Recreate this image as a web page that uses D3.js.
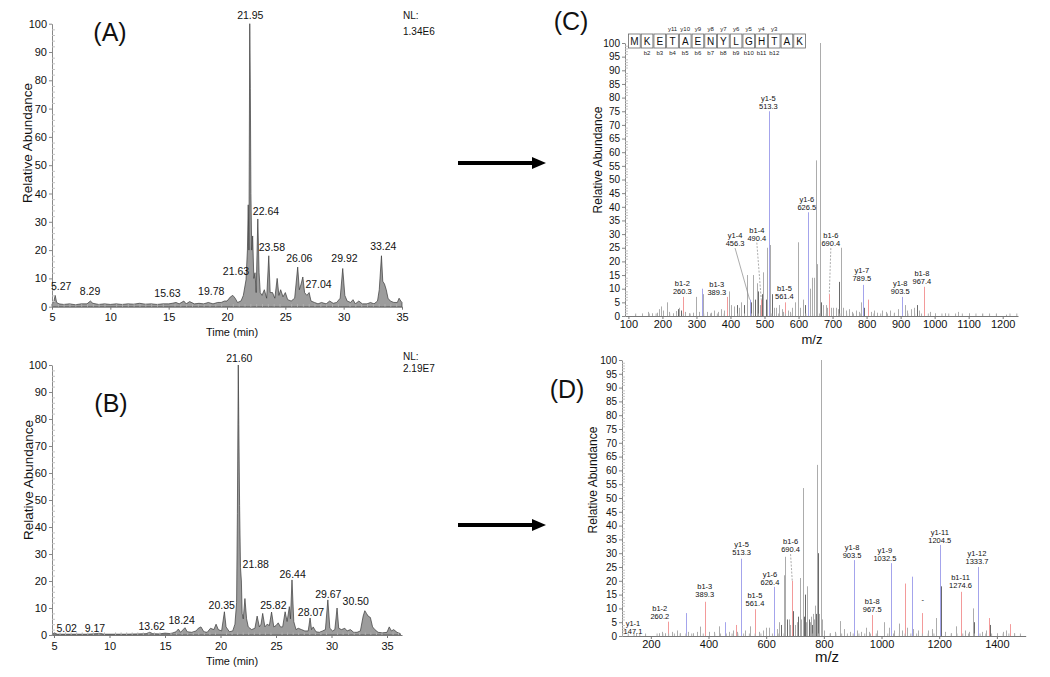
<!DOCTYPE html>
<html><head><meta charset="utf-8">
<script src="https://cdn.jsdelivr.net/npm/d3@7"></script>
<style>body{margin:0;background:#fff}</style>
</head><body>
<svg id="c" width="1050" height="677"></svg>
<script>
// ---------- DATA ----------
const chromA = [[5.0,1],[5.15,1.5],[5.27,4],[5.4,1.5],[5.6,1],[6.0,0.8],[6.5,1],[7.0,0.7],[7.5,1],[8.0,1],[8.29,2],[8.5,1.2],[9.0,0.8],[9.5,1],[10,0.8],[10.5,1],[11,0.8],[11.5,1],[12,0.9],[12.5,1.2],[13,0.9],[13.5,1],[14,0.8],[14.5,1],[15,1],[15.3,1.2],[15.63,1.5],[15.9,1],[16.3,2],[16.5,1],[16.8,1.8],[17.2,1],[17.6,1.2],[18,1],[18.4,1.5],[18.8,1],[19.2,1.5],[19.5,1.5],[19.78,2],[20.0,2],[20.3,3.5],[20.5,4],[20.7,3],[20.9,1.5],[21.2,2],[21.4,4],[21.63,9.5],[21.75,20],[21.82,36],[21.88,20],[21.95,100],[22.0,77],[22.05,40],[22.12,20],[22.2,25],[22.3,10],[22.4,12],[22.5,5],[22.64,31],[22.75,12],[22.85,5],[23.0,4],[23.2,6],[23.4,3],[23.58,18],[23.7,5],[23.9,5],[24.1,3],[24.3,10],[24.45,4],[24.6,6],[24.8,3.5],[25.0,5],[25.2,2.5],[25.5,2],[25.8,3],[26.06,14],[26.2,6],[26.35,8],[26.5,10.5],[26.65,5],[26.85,4],[27.04,5],[27.2,2],[27.5,1.5],[27.8,1],[28.1,1.5],[28.5,1],[28.8,2],[29.1,1.2],[29.4,1.5],[29.7,3],[29.92,13.5],[30.1,4],[30.3,2],[30.6,1.5],[30.8,2.5],[31.0,1],[31.3,2],[31.6,1],[32,1],[32.3,1.5],[32.6,1],[32.9,2],[33.05,6],[33.24,18],[33.35,9],[33.5,8],[33.65,6],[33.8,3],[34.0,2],[34.3,1.5],[34.6,1.5],[34.75,3],[34.9,2],[35.0,1.5]];
const chromB = [[4.85,0.3],[5.02,0.8],[5.3,0.3],[6,0.3],[7,0.3],[8,0.3],[9.17,0.6],[9.5,0.3],[10.5,0.3],[11.5,0.3],[12.5,0.4],[13.3,0.5],[13.62,1],[13.9,0.5],[14.5,0.4],[15,0.7],[15.5,0.5],[16.0,1.2],[16.2,2.2],[16.4,1],[16.8,2.7],[17.0,1.2],[17.4,1],[17.8,1.5],[18.0,2.5],[18.24,3],[18.5,1.2],[18.8,1],[19.1,2.5],[19.4,2],[19.6,4],[19.8,2],[20.1,1.5],[20.35,8.6],[20.5,3],[20.8,1.2],[21.1,1.5],[21.3,4],[21.45,12],[21.52,45],[21.6,100],[21.65,78],[21.72,48],[21.8,25],[21.88,20],[21.95,8],[22.05,6],[22.2,13.5],[22.35,6],[22.5,3],[22.8,2],[23.1,2.5],[23.3,7],[23.5,3],[23.65,4],[23.8,8],[24.0,3],[24.2,4],[24.4,3.5],[24.6,8.5],[24.8,3],[25.0,3.5],[25.2,4.5],[25.4,3],[25.6,3],[25.82,8.6],[26.0,5],[26.2,10.5],[26.3,6],[26.44,20.4],[26.6,5],[26.8,2],[27.0,2.5],[27.3,2],[27.6,1.5],[27.9,1.5],[28.07,6.3],[28.2,2],[28.35,3],[28.6,1.2],[28.9,1],[29.2,1.5],[29.45,2],[29.67,13],[29.85,2.5],[30.1,1.5],[30.3,2],[30.5,10],[30.65,2.5],[30.9,2],[31.2,2.5],[31.4,1.5],[31.7,2],[32.0,1],[32.3,1],[32.6,1.5],[32.85,7],[33.0,9],[33.15,8],[33.3,7],[33.5,6.5],[33.7,3],[33.9,2],[34.2,1],[34.6,0.8],[35.0,1],[35.2,3],[35.4,1.5],[35.6,2],[35.9,1],[36.2,0.5]];
// peak labels: text, time of label centre, abundance at label baseline
const labelsA = [["21.95",22.0,101.6],["5.27",5.78,5.9],["8.29",8.26,4.1],["15.63",14.9,3.5],["19.78",18.65,4.1],["21.63",20.77,11.2],["22.64",23.34,32.4],["23.58",23.85,19.8],["26.06",26.2,15.9],["27.04",27.85,6.6],["29.92",30.07,15.9],["33.24",33.4,20]];
const labelsB = [["21.60",21.69,101],["5.02",6.14,1.2],["9.17",8.69,1.2],["13.62",13.8,1.9],["18.24",16.5,4.1],["20.35",20.11,9.6],["21.88",23.17,24.7],["25.82",24.76,9.6],["26.44",26.5,21],["28.07",28.15,7],["29.67",29.71,13.6],["30.50",32.18,11.1]];
const nlA = ["NL:","1.34E6"];
const nlB = ["NL:","2.19E7"];
// spectra: m/z, relative abundance, ion type (g grey, d dark, b y-ion blue, r b-ion red)
const specC = [[120,0.5,'g'],[140,0.8,'g'],[158,1.5,'g'],[170,1,'g'],[183,1.2,'g'],[190,2.5,'g'],[196,3.5,'g'],[203,2,'g'],[212,5,'g'],[220,1.5,'g'],[232,1,'g'],[240,1.8,'g'],[245,2.5,'d'],[250,3,'g'],[255,2,'d'],[260.3,7,'r'],[266,1.5,'g'],[278,1,'g'],[290,1.2,'g'],[300,7,'g'],[308,1.5,'g'],[315,10,'b'],[320,8,'g'],[330,1.5,'g'],[342,1.2,'g'],[352,2,'g'],[362,1.5,'g'],[371,2.5,'g'],[380,2,'g'],[389.3,7,'r'],[395,9,'g'],[402,4,'g'],[410,3.5,'g'],[418,4,'d'],[425,3,'g'],[432,5,'g'],[440,4,'d'],[449,15,'g'],[456.3,6,'b'],[461,5,'d'],[466,15,'g'],[471,6,'d'],[477,12,'g'],[482,9,'d'],[486,4,'g'],[490.4,6,'r'],[494,8,'d'],[497,16,'g'],[503,6,'d'],[507,25,'g'],[513.3,75,'b'],[517,26,'g'],[522,8,'d'],[527,3,'g'],[535,3,'g'],[542,4,'g'],[550,2.5,'g'],[555,1.5,'g'],[561.4,5,'r'],[568,2,'g'],[575,1.5,'g'],[582,3,'g'],[590,5,'g'],[597,27,'g'],[604,3,'g'],[612,6,'g'],[619,4,'d'],[626.5,38,'b'],[628,9,'d'],[634,10,'g'],[639,14,'g'],[645,14,'g'],[652,57,'g'],[655,19,'g'],[662,100,'g'],[667,5,'d'],[672,4,'g'],[680,4,'g'],[685,3,'g'],[690.4,8,'r'],[695,3,'g'],[702,3,'g'],[710,3,'g'],[715,2.5,'g'],[720,12.5,'d'],[725,25,'g'],[732,3,'g'],[740,2,'g'],[748,2.5,'g'],[758,1.5,'g'],[768,2,'g'],[777,1.5,'g'],[784,5,'g'],[789.5,11.4,'b'],[793,3,'d'],[804,6,'r'],[812,1.5,'g'],[822,2,'g'],[832,1.2,'g'],[845,2,'g'],[856,1.5,'g'],[868,2,'g'],[880,1.2,'g'],[893,2.5,'g'],[903.5,7,'b'],[912,4,'g'],[920,2,'g'],[930,2.5,'g'],[940,3,'g'],[947,4,'d'],[955,2,'g'],[967.4,10.7,'r'],[970,3,'d'],[985,1.5,'g'],[1000,1,'g'],[1030,1,'g'],[1068,1.5,'g'],[1100,1,'g'],[1140,0.8,'g'],[1180,0.8,'g'],[1210,0.5,'g']];
const specD = [[147.1,1,'g'],[180,0.5,'g'],[230,1,'g'],[240,1.5,'g'],[250,1,'g'],[260.2,5.2,'r'],[275,1.5,'g'],[290,2,'g'],[300,1,'g'],[321,8.3,'b'],[330,1.5,'g'],[345,1,'g'],[360,1.5,'g'],[372,3.4,'g'],[389.3,12.4,'r'],[400,1.5,'g'],[420,1.5,'g'],[438,3.5,'g'],[456,5,'b'],[470,1.5,'g'],[485,2,'g'],[494,4,'r'],[500,1.5,'g'],[513.3,28,'b'],[528,2,'g'],[545,3.5,'g'],[561.4,9.7,'r'],[575,1.5,'g'],[590,2,'g'],[600,3,'g'],[610,3,'g'],[626.4,17.8,'b'],[636,2.5,'g'],[645,5,'g'],[653,4,'d'],[661,22,'g'],[667,28.7,'g'],[673,6,'d'],[679,6,'g'],[684,4,'g'],[690.4,20,'r'],[694,9,'d'],[700,4,'g'],[706,5,'g'],[711,7,'d'],[717,21,'g'],[721,6,'g'],[726,53.6,'g'],[730,7,'d'],[734,15,'d'],[738,5,'g'],[743,18,'g'],[747,6,'d'],[751,5,'g'],[756,7,'g'],[760,4,'d'],[763,8,'g'],[767,6,'g'],[770,11,'g'],[774,8,'d'],[777,62,'g'],[780,30,'d'],[784,8,'g'],[789,100,'g'],[792,6,'g'],[800,2,'g'],[820,1,'g'],[840,1.5,'g'],[856,5.4,'g'],[870,2.5,'g'],[890,1.5,'g'],[903.5,27.5,'b'],[915,2,'g'],[930,1.5,'g'],[945,3,'g'],[955,1.5,'g'],[967.5,7.6,'r'],[985,2,'g'],[1010,5,'g'],[1025,3,'g'],[1032.5,26.4,'b'],[1034,16,'d'],[1045,2,'g'],[1060,4.5,'g'],[1070,2,'g'],[1081,19,'r'],[1088,3,'g'],[1104,21.5,'b'],[1110,2.5,'g'],[1125,2,'g'],[1139,8.3,'r'],[1142,4,'d'],[1160,2,'g'],[1175,2.5,'g'],[1188,6.5,'g'],[1204.5,33,'b'],[1206,18,'d'],[1220,1.5,'g'],[1240,1,'g'],[1258,3.5,'g'],[1274.6,16,'r'],[1277,8,'d'],[1290,2,'g'],[1305,1.5,'g'],[1318,10,'g'],[1322,5,'d'],[1333.7,25,'b'],[1336,6,'d'],[1350,1.5,'g'],[1362,2,'g'],[1373,6.5,'r'],[1376,4,'d'],[1400,1,'g'],[1420,1.5,'g'],[1432,2,'g'],[1445,4.3,'r'],[1460,1,'g'],[1480,0.5,'g']];
// ion labels: line1, line2, m/z of label centre, abundance at 2nd baseline, leader target [m/z, abundance] or null, dashed
const ionLabelsC = [["y1-5","513.3",511.5,76,null,false],["b1-2","260.3",258.5,8.1,null,false],["b1-3","389.3",359.7,7.7,null,false],["y1-4","456.3",413.5,25.6,[456.3,6],false],["b1-4","490.4",477.4,27.6,[490.4,6],true],["b1-5","561.4",558.5,6.1,null,false],["y1-6","626.5",624.4,38.8,null,false],["b1-6","690.4",695,25.6,[690.4,8],true],["y1-7","789.5",786,12.8,null,false],["y1-8","903.5",898.8,7.9,null,false],["b1-8","967.4",962.6,11.6,null,false]];
const ionLabelsD = [["y1-1","147.1",138,0.7,null,false],["b1-2","260.2",231,6.2,null,false],["b1-3","389.3",387,14.1,null,false],["y1-5","513.3",514.6,29.3,null,false],["b1-5","561.4",561,10.9,null,false],["y1-6","626.4",613,18.5,null,false],["b1-6","690.4",684.6,30.4,[690.4,20],true],["y1-8","903.5",898,28.3,null,false],["b1-8","967.5",967.6,8.7,null,false],["y1-9","1032.5",1011.6,27.2,null,false],["","-",1143,12.3,null,false],["y1-11","1204.5",1202,33.7,null,false],["b1-11","1274.6",1274,17.4,null,false],["y1-12","1333.7",1331,26.1,null,false]];
const sequence = ["M","K","E","T","A","E","N","Y","L","G","H","T","A","K"];
const yIons = ["y11","y10","y9","y8","y7","y6","y5","y4","y3"];   // over residues 4..12
const bIons = ["b2","b3","b4","b5","b6","b7","b8","b9","b10","b11","b12"]; // under residues 2..12
const panelLetters = ["(A)","(B)","(C)","(D)"];
const ticksChrom = [5,10,15,20,25,30,35];
const ticksC = [100,200,300,400,500,600,700,800,900,1000,1100,1200];
const ticksD = [200,400,600,800,1000,1200,1400];

// ---------- DRAW ----------
const FONT = "'Liberation Sans', Arial, Helvetica, sans-serif";
const svg = d3.select('#c');
const colors = {g:'#acacac', d:'#6a6a6a', b:'#a4a4ec', r:'#f39a9a'};

function txt(x, y, s, size, anchor) {
  return svg.append('text').attr('x', x).attr('y', y).text(s)
    .attr('font-family', FONT).attr('font-size', size).attr('fill', '#111')
    .attr('text-anchor', anchor || 'middle');
}

function yAxis(y, x0, step, minor, fs) {
  const majors = d3.range(0, 100.001, step);
  const minors = d3.range(0, 100.001, minor).filter(v => Math.abs(v / step - Math.round(v / step)) > 1e-6);
  const g = svg.append('g').attr('transform', `translate(${x0},0)`)
    .call(d3.axisLeft(y).tickValues(majors).tickSize(3).tickSizeOuter(0).tickPadding(2).tickFormat(d3.format('d')));
  g.select('.domain').attr('stroke', '#888');
  g.selectAll('.tick line').attr('stroke', '#888');
  g.selectAll('text').attr('font-size', fs).attr('font-family', FONT).attr('fill', '#111');
  const m = svg.append('g').attr('transform', `translate(${x0},0)`)
    .call(d3.axisRight(y).tickValues(minors).tickSize(3).tickSizeOuter(0).tickFormat(''));
  m.select('.domain').remove();
  m.selectAll('line').attr('stroke', '#c4c4c4');
}

function xAxis(x, y0, majors, minorStep, fs, pad) {
  const [a, b] = x.domain();
  const g = svg.append('g').attr('transform', `translate(0,${y0})`)
    .call(d3.axisBottom(x).tickValues(majors).tickSize(3).tickSizeOuter(0).tickPadding(pad).tickFormat(d3.format('d')));
  g.select('.domain').attr('stroke', '#777');
  g.selectAll('.tick line').attr('stroke', '#777');
  g.selectAll('text').attr('font-size', fs).attr('font-family', FONT).attr('fill', '#111');
  const minors = d3.range(Math.ceil(a / minorStep) * minorStep, b, minorStep)
    .filter(v => !majors.some(mj => Math.abs(mj - v) < 1e-6));
  const m = svg.append('g').attr('transform', `translate(0,${y0})`)
    .call(d3.axisTop(x).tickValues(minors).tickSize(2.5).tickSizeOuter(0).tickFormat(''));
  m.select('.domain').remove();
  m.selectAll('line').attr('stroke', '#b0b0b0');
}

function chrom(data, labels, nl, xr, xd, yr, tlY, letter, letterPos, nlGap) {
  const x = d3.scaleLinear().domain(xd).range(xr);
  const y = d3.scaleLinear().domain([0, 100]).range(yr);
  const area = d3.area().x(d => x(d[0])).y0(y(0)).y1(d => y(d[1]));
  svg.append('path').datum(data).attr('d', area).attr('fill', '#9c9c9c').attr('stroke', '#3a3a3a').attr('stroke-width', 0.7);
  yAxis(y, xr[0], 10, 2, 11);
  xAxis(x, yr[0], ticksChrom, 0.5, 11, 4);
  labels.forEach(l => txt(x(l[1]), y(l[2]), l[0], 10.5));
  txt(xr[1] + 1, yr[1] - 5, nl[0], 10, 'start');
  txt(xr[1] + 1, yr[1] - 5 + nlGap, nl[1], 10, 'start');
  txt((xr[0] + xr[1]) / 2 + 5, tlY, 'Time (min)', 11);
  txt(letterPos[0], letterPos[1], letter, 25);
  return {x, y};
}

function spectrum(data, labels, xr, xd, yr, majors) {
  const x = d3.scaleLinear().domain(xd).range(xr);
  const y = d3.scaleLinear().domain([0, 100]).range(yr);
  const order = {g:0, d:1, r:2, b:2};
  const sorted = data.slice().sort((a, b) => order[a[2]] - order[b[2]]);
  svg.append('g').selectAll('line').data(sorted).join('line')
    .attr('x1', d => Math.round(x(d[0])) + 0.5).attr('x2', d => Math.round(x(d[0])) + 0.5)
    .attr('y1', y(0)).attr('y2', d => y(d[1]))
    .attr('stroke', d => colors[d[2]]).attr('stroke-width', 1);
  yAxis(y, xr[0], 5, 1, 10);
  xAxis(x, yr[0], majors, 20, 11, 1);
  labels.forEach(l => {
    const cx = x(l[2]), by = y(l[3]);
    if (l[0]) txt(cx, by - 8, l[0], 7.5);
    txt(cx, by, l[1], 7.5);
    if (l[4]) {
      svg.append('line').attr('x1', cx).attr('y1', by + 2).attr('x2', x(l[4][0])).attr('y2', y(l[4][1]))
        .attr('stroke', '#888').attr('stroke-width', 0.7).attr('stroke-dasharray', l[5] ? '2,1.5' : null);
    }
  });
  return {x, y};
}

// Panels A and B
chrom(chromA, labelsA, nlA, [52, 402], [5, 35], [306.7, 23.7], 336, panelLetters[0], [110, 41], 16);
chrom(chromB, labelsB, nlB, [52, 402], [4.82, 36.35], [635, 365], 665, panelLetters[1], [111, 412], 12);
[[27, 143, 13.5], [28, 480, 13.5]].forEach(p =>
  txt(0, 0, 'Relative Abundance', p[2]).attr('transform', `translate(${p[0] + 5},${p[1]}) rotate(-90)`));

// Panels C and D
spectrum(specC, ionLabelsC, [625, 1018], [90, 1245], [316, 43], ticksC);
spectrum(specD, ionLabelsD, [622, 1025.7], [100, 1500], [636, 360], ticksD);
txt(0, 0, 'Relative Abundance', 12).attr('transform', `translate(602,160) rotate(-90)`);
txt(0, 0, 'Relative Abundance', 12).attr('transform', `translate(597,480) rotate(-90)`);
txt(812, 344, 'm/z', 13);
txt(827, 662, 'm/z', 15);
txt(571, 30, panelLetters[2], 25);
txt(567, 398, panelLetters[3], 25);

// Sequence map in C
const seqX = d3.scaleLinear().domain([0, sequence.length]).range([628, 806]);
const sq = svg.append('g');
sequence.forEach((s, i) => {
  sq.append('rect').attr('x', seqX(i) + 0.5).attr('y', 34).attr('width', seqX(1) - seqX(0) - 1).attr('height', 14)
    .attr('fill', 'none').attr('stroke', '#666').attr('stroke-width', 0.8);
  sq.append('text').attr('x', seqX(i + 0.5)).attr('y', 45).text(s).attr('text-anchor', 'middle')
    .attr('font-family', FONT).attr('font-size', 10).attr('fill', '#111');
});
yIons.forEach((s, i) => sq.append('text').attr('x', seqX(i + 3.5)).attr('y', 31).text(s).attr('text-anchor', 'middle')
  .attr('font-family', FONT).attr('font-size', 6).attr('fill', '#222'));
bIons.forEach((s, i) => sq.append('text').attr('x', seqX(i + 1.5)).attr('y', 55).text(s).attr('text-anchor', 'middle')
  .attr('font-family', FONT).attr('font-size', 6).attr('fill', '#222'));

// Arrows
[163, 525].forEach(yy => {
  svg.append('line').attr('x1', 458).attr('x2', 534).attr('y1', yy).attr('y2', yy).attr('stroke', '#000').attr('stroke-width', 4);
  svg.append('path').attr('d', `M532,${yy - 6}L546,${yy}L532,${yy + 6}Z`).attr('fill', '#000');
});
</script>
</body></html>
